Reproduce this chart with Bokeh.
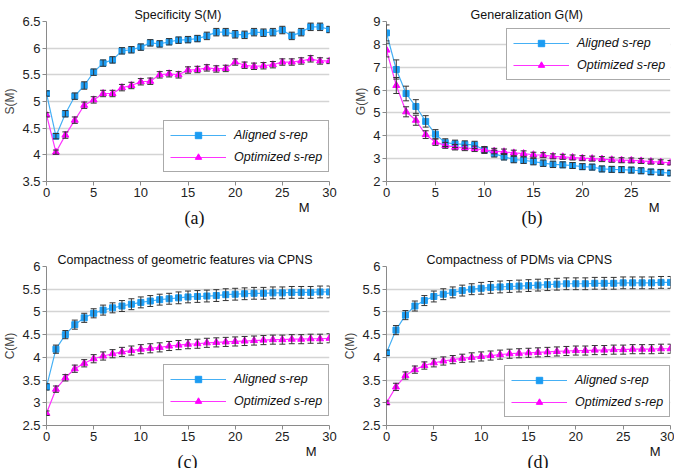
from bokeh.plotting import figure
from bokeh.layouts import gridplot
from bokeh.models import (ColumnDataSource, Whisker, TeeHead, FixedTicker,
                          CustomJSTickFormatter, Title, Range1d)
from bokeh.embed import file_html
from bokeh.resources import INLINE

# ---------------- data ----------------
M_30 = list(range(31))
M_29 = list(range(30))

spec_aligned = [5.15, 4.35, 4.77, 5.10, 5.30, 5.55, 5.72, 5.78, 5.95, 5.97, 6.02, 6.10, 6.08, 6.12, 6.15, 6.16,
                6.18, 6.23, 6.30, 6.30, 6.26, 6.25, 6.30, 6.29, 6.30, 6.34, 6.23, 6.30, 6.40, 6.40, 6.35]
spec_aligned_err = [0.05, 0.05, 0.06, 0.06, 0.07, 0.06, 0.06, 0.06, 0.06, 0.06, 0.06, 0.06, 0.06, 0.06, 0.06, 0.06,
                    0.06, 0.07, 0.07, 0.07, 0.07, 0.07, 0.07, 0.07, 0.07, 0.07, 0.07, 0.07, 0.07, 0.07, 0.06]
spec_optim = [4.75, 4.05, 4.37, 4.65, 4.93, 5.03, 5.15, 5.15, 5.26, 5.30, 5.37, 5.38, 5.50, 5.52, 5.50, 5.59,
              5.60, 5.63, 5.61, 5.62, 5.74, 5.68, 5.66, 5.67, 5.69, 5.74, 5.74, 5.76, 5.80, 5.76, 5.76]
spec_optim_err = [0.04, 0.04, 0.06, 0.06, 0.06, 0.06, 0.06, 0.06, 0.06, 0.06, 0.06, 0.06, 0.06, 0.06, 0.06, 0.06,
                  0.06, 0.06, 0.06, 0.06, 0.06, 0.06, 0.06, 0.06, 0.06, 0.06, 0.06, 0.06, 0.06, 0.06, 0.05]

gen_aligned = [8.50, 6.90, 5.85, 5.28, 4.63, 4.07, 3.70, 3.65, 3.62, 3.60, 3.38, 3.22, 3.08, 2.96, 2.93,
               2.87, 2.80, 2.75, 2.73, 2.70, 2.65, 2.63, 2.55, 2.53, 2.52, 2.50, 2.47, 2.42, 2.40, 2.37]
gen_aligned_err = [0.35, 0.42, 0.32, 0.30, 0.25, 0.20, 0.17, 0.16, 0.16, 0.16, 0.15, 0.15, 0.14, 0.14, 0.14,
                   0.14, 0.14, 0.14, 0.13, 0.13, 0.13, 0.13, 0.13, 0.13, 0.13, 0.13, 0.13, 0.12, 0.12, 0.12]
gen_optim = [7.75, 6.20, 5.05, 4.68, 4.05, 3.72, 3.58, 3.50, 3.47, 3.43, 3.38, 3.33, 3.30, 3.25, 3.22,
             3.17, 3.15, 3.10, 3.08, 3.05, 3.02, 3.00, 2.98, 2.95, 2.93, 2.92, 2.90, 2.87, 2.85, 2.82]
gen_optim_err = [0.30, 0.35, 0.22, 0.22, 0.17, 0.14, 0.13, 0.12, 0.12, 0.12, 0.12, 0.12, 0.12, 0.12, 0.12,
                 0.11, 0.11, 0.11, 0.11, 0.11, 0.11, 0.11, 0.11, 0.11, 0.11, 0.11, 0.11, 0.11, 0.10, 0.10]

geo_aligned = [3.35, 4.18, 4.50, 4.72, 4.87, 4.97, 5.04, 5.09, 5.13, 5.17, 5.21, 5.24, 5.27, 5.29, 5.31, 5.33,
               5.34, 5.35, 5.36, 5.38, 5.39, 5.40, 5.41, 5.41, 5.42, 5.42, 5.43, 5.43, 5.43, 5.44, 5.44]
geo_aligned_err = [0.07, 0.09, 0.09, 0.10, 0.10, 0.10, 0.11, 0.11, 0.12, 0.12, 0.12, 0.12, 0.12, 0.12, 0.13, 0.13,
                   0.13, 0.13, 0.13, 0.13, 0.13, 0.13, 0.13, 0.13, 0.13, 0.13, 0.13, 0.13, 0.13, 0.13, 0.13]
geo_optim = [2.77, 3.30, 3.55, 3.75, 3.87, 3.97, 4.03, 4.08, 4.12, 4.15, 4.18, 4.20, 4.22, 4.25, 4.27, 4.29,
             4.30, 4.32, 4.33, 4.34, 4.35, 4.36, 4.37, 4.38, 4.39, 4.39, 4.40, 4.40, 4.41, 4.41, 4.42]
geo_optim_err = [0.05, 0.07, 0.07, 0.08, 0.08, 0.09, 0.09, 0.09, 0.10, 0.10, 0.10, 0.10, 0.10, 0.10, 0.10, 0.10,
                 0.10, 0.10, 0.10, 0.10, 0.10, 0.10, 0.10, 0.10, 0.10, 0.10, 0.10, 0.10, 0.10, 0.10, 0.10]

pdm_aligned = [4.10, 4.60, 4.93, 5.13, 5.25, 5.34, 5.39, 5.43, 5.47, 5.50, 5.52, 5.54, 5.55, 5.56, 5.57, 5.58,
               5.59, 5.60, 5.61, 5.62, 5.62, 5.62, 5.63, 5.63, 5.63, 5.64, 5.64, 5.64, 5.64, 5.65, 5.65]
pdm_aligned_err = [0.06, 0.10, 0.10, 0.11, 0.11, 0.12, 0.12, 0.12, 0.12, 0.12, 0.13, 0.13, 0.13, 0.13, 0.13, 0.13,
                   0.13, 0.13, 0.13, 0.13, 0.13, 0.13, 0.13, 0.13, 0.13, 0.13, 0.13, 0.13, 0.13, 0.13, 0.13]
pdm_optim = [3.00, 3.35, 3.60, 3.73, 3.82, 3.88, 3.92, 3.95, 3.98, 4.00, 4.02, 4.04, 4.06, 4.08, 4.09, 4.10,
             4.11, 4.12, 4.13, 4.14, 4.15, 4.15, 4.16, 4.16, 4.17, 4.17, 4.18, 4.18, 4.18, 4.19, 4.19]
pdm_optim_err = [0.04, 0.08, 0.08, 0.08, 0.08, 0.09, 0.09, 0.09, 0.09, 0.10, 0.10, 0.10, 0.10, 0.10, 0.10, 0.10,
                 0.10, 0.10, 0.10, 0.10, 0.10, 0.10, 0.10, 0.10, 0.10, 0.10, 0.10, 0.10, 0.10, 0.10, 0.10]

series_names = ["Aligned s-rep", "Optimized s-rep"]
x_ticks = [0, 5, 10, 15, 20, 25, 30]
x_ticks_b = [0, 5, 10, 15, 20, 25]
yticks_a = [3.5, 4, 4.5, 5, 5.5, 6, 6.5]
yticks_b = [2, 3, 4, 5, 6, 7, 8, 9]
yticks_cd = [2.5, 3, 3.5, 4, 4.5, 5, 5.5, 6]

# ---------------- style ----------------
FONT = "Liberation Sans"
BLUE_LINE = "#45B0F5"
BLUE_MARK = "#1C9CF2"
MAG_LINE = "#FF33FF"
MAG_MARK = "#FF00FF"
ERR = "#333333"


def make_panel(title, ylabel, letter, xs, a, ae, o, oe, xmax, ymin, ymax, yticks, xticks,
               top, bottom, left, right, height, title_off, m_off, letter_off, leg_loc):
    p = figure(width=337, height=height, output_backend="svg", toolbar_location=None,
               x_range=Range1d(0, xmax), y_range=Range1d(ymin, ymax),
               min_border_left=left, min_border_right=right,
               min_border_top=top, min_border_bottom=bottom)
    p.title.text = title
    p.title.align = "left"
    p.title.offset = title_off
    p.title.standoff = 0
    p.title.text_font = FONT
    p.title.text_font_size = "12.5px"
    p.title.text_font_style = "normal"
    p.title.text_color = "#111111"
    p.title.text_line_height = 1.0

    p.outline_line_color = None
    p.xgrid.grid_line_color = None
    p.ygrid.grid_line_color = "#D4D4D4"
    p.ygrid.grid_line_width = 1.5

    for ax in (p.xaxis[0], p.yaxis[0]):
        ax.axis_line_color = "#8A8A8A"
        ax.major_tick_line_color = "#8A8A8A"
        ax.minor_tick_line_color = None
        ax.major_tick_out = 4
        ax.major_tick_in = 0
        ax.major_label_text_font = FONT
        ax.major_label_text_font_size = "13px"
        ax.major_label_text_color = "#222222"
        ax.major_label_standoff = 2
    p.xaxis.ticker = FixedTicker(ticks=xticks)
    p.yaxis.ticker = FixedTicker(ticks=yticks)
    p.yaxis.formatter = CustomJSTickFormatter(code="return String(tick);")
    p.yaxis.axis_label = ylabel
    p.yaxis.axis_label_text_font = FONT
    p.yaxis.axis_label_text_font_size = "12px"
    p.yaxis.axis_label_text_font_style = "normal"
    p.yaxis.axis_label_standoff = 2

    for vals, errs, name, lc, mc, mk, ms in (
            (a, ae, series_names[0], BLUE_LINE, BLUE_MARK, "square", 6),
            (o, oe, series_names[1], MAG_LINE, MAG_MARK, "triangle", 7)):
        src = ColumnDataSource(dict(x=xs, y=vals,
                                    up=[v + e for v, e in zip(vals, errs)],
                                    lo=[v - e for v, e in zip(vals, errs)]))
        p.line("x", "y", source=src, line_color=lc, line_width=1.2, legend_label=name)
        p.scatter("x", "y", source=src, marker=mk, size=ms, fill_color=mc, line_color=mc,
                  legend_label=name)
        w = Whisker(base="x", upper="up", lower="lo", source=src, line_color=ERR, line_width=1,
                    upper_head=TeeHead(size=6, line_color=ERR, line_width=1),
                    lower_head=TeeHead(size=6, line_color=ERR, line_width=1),
                    level="overlay")
        p.add_layout(w)

    lg = p.legend[0]
    lg.location = leg_loc
    lg.label_text_font = FONT
    lg.label_text_font_style = "italic"
    lg.label_text_font_size = "12.5px"
    lg.label_text_color = "#111111"
    lg.border_line_color = "#555555"
    lg.border_line_width = 1
    lg.background_fill_color = "white"
    lg.background_fill_alpha = 1
    lg.padding = 6
    lg.spacing = 6
    lg.glyph_width = 56
    lg.glyph_height = 16
    lg.label_height = 16
    lg.label_standoff = 8
    lg.margin = 0

    p.add_layout(Title(text="M", align="right", offset=m_off, standoff=-4,
                       text_font=FONT, text_font_size="13px", text_font_style="normal",
                       text_color="#111111"), "below")
    p.add_layout(Title(text=letter, align="left", offset=letter_off, standoff=-10,
                       vertical_align="top",
                       text_font="Liberation Serif", text_font_size="18px",
                       text_font_style="normal", text_color="#111111"), "below")
    return p


pa = make_panel("Specificity S(M)", "S(M)", "(a)", M_30, spec_aligned, spec_aligned_err,
                spec_optim, spec_optim_err, 30, 3.5, 6.5, yticks_a, x_ticks,
                21, 55, 43, 8, 236, 88, 20, 138, (117, 9))
pb = make_panel("Generalization G(M)", "G(M)", "(b)", M_29, gen_aligned, gen_aligned_err,
                gen_optim, gen_optim_err, 29, 2, 9, yticks_b, x_ticks_b,
                21, 55, 48, 4, 236, 84, 11, 135, (120, 101))
pc = make_panel("Compactness of geometric features via CPNS", "C(M)", "(c)", M_30, geo_aligned,
                geo_aligned_err, geo_optim, geo_optim_err, 30, 2.5, 6, yticks_cd, x_ticks,
                30, 43, 43, 8, 232, 11, 13, 131, (117, 9))
pd_ = make_panel("Compactness of PDMs via CPNS", "C(M)", "(d)", M_30, pdm_aligned, pdm_aligned_err,
                 pdm_optim, pdm_optim_err, 30, 2.5, 6, yticks_cd, x_ticks,
                 30, 43, 49, 4, 232, 40, 10, 141, (118, 8))

grid = gridplot([[pa, pb], [pc, pd_]], toolbar_location=None)

open("out.html", "w").write(file_html(grid, INLINE))
